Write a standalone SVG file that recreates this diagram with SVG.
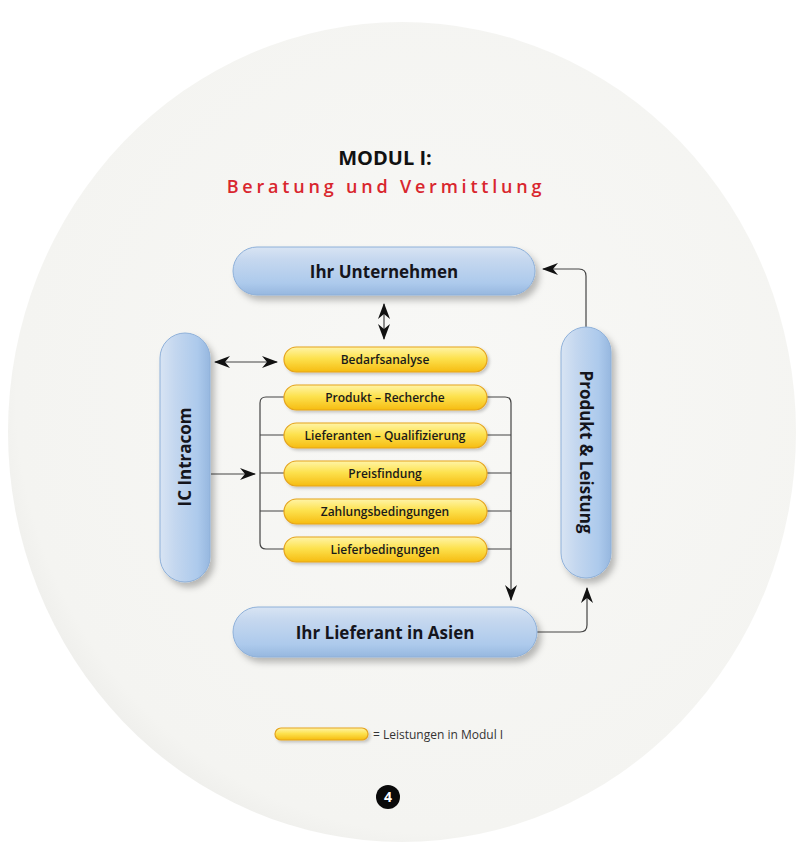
<svg xmlns="http://www.w3.org/2000/svg" width="800" height="868" viewBox="0 0 800 868">
<defs>
<linearGradient id="blueH" x1="0" y1="0" x2="0" y2="1">
<stop offset="0" stop-color="#d8e4f3"/>
<stop offset="0.25" stop-color="#c6d8ef"/>
<stop offset="0.75" stop-color="#adcaec"/>
<stop offset="1" stop-color="#96b7df"/>
</linearGradient>
<linearGradient id="blueV" x1="0" y1="0" x2="1" y2="0">
<stop offset="0" stop-color="#d8e4f3"/>
<stop offset="0.3" stop-color="#c4d7ef"/>
<stop offset="0.75" stop-color="#adcaec"/>
<stop offset="1" stop-color="#96b7df"/>
</linearGradient>
<linearGradient id="yel" x1="0" y1="0" x2="0" y2="1">
<stop offset="0" stop-color="#fff4a8"/>
<stop offset="0.45" stop-color="#fde24f"/>
<stop offset="1" stop-color="#f6bc10"/>
</linearGradient>
<radialGradient id="disc" cx="0.55" cy="0.45" r="0.6">
<stop offset="0" stop-color="#f8f8f6"/>
<stop offset="0.9" stop-color="#f4f4f1"/>
<stop offset="1" stop-color="#ebebe8"/>
</radialGradient>
<filter id="sh" x="-20%" y="-30%" width="150%" height="180%">
<feDropShadow dx="4" dy="5" stdDeviation="3" flood-color="#000" flood-opacity="0.25"/>
</filter>
<filter id="shy" x="-10%" y="-30%" width="130%" height="180%">
<feDropShadow dx="2" dy="2" stdDeviation="1.5" flood-color="#000" flood-opacity="0.2"/>
</filter>
<marker id="ah" viewBox="0 0 16 12" refX="15" refY="6" markerWidth="16" markerHeight="12" markerUnits="userSpaceOnUse" orient="auto-start-reverse">
<path d="M0,0 L16,6 L0,12 L5,6 Z" fill="#111"/>
</marker>
</defs>
<style>
.blue{fill:url(#blueH);stroke:#8eb0d9;stroke-width:1;filter:url(#sh)}
.blueV{fill:url(#blueV);stroke:#8eb0d9;stroke-width:1;filter:url(#sh)}
.yel{fill:url(#yel);stroke:#e5a31c;stroke-width:1.2;filter:url(#shy)}
.big{font-family:"Open Sans","Liberation Sans",sans-serif;font-weight:700;font-size:17px;fill:#15151c;text-anchor:middle}
.sm{font-family:"Open Sans","Liberation Sans",sans-serif;font-weight:600;font-size:12px;fill:#1a1a1a;text-anchor:middle}
.ln{fill:none;stroke:#444;stroke-width:1.2}
</style>
<rect width="800" height="868" fill="#ffffff"/>
<ellipse cx="402" cy="432" rx="394" ry="410" fill="url(#disc)"/>
<g id="title">
<text x="385" y="165" font-family="Open Sans,Liberation Sans,sans-serif" font-weight="700" font-size="20" fill="#111" text-anchor="middle">MODUL I:</text>
<text x="386" y="193" font-family="Open Sans,Liberation Sans,sans-serif" font-weight="600" font-size="18" fill="#d9262e" text-anchor="middle" letter-spacing="3.8">Beratung und Vermittlung</text>
</g>
<g id="connectors">
<line class="ln" x1="384" y1="304" x2="384" y2="339" marker-start="url(#ah)" marker-end="url(#ah)"/>
<line class="ln" x1="215" y1="362" x2="277" y2="362" marker-start="url(#ah)" marker-end="url(#ah)"/>
<line class="ln" x1="211" y1="474" x2="255" y2="474" marker-end="url(#ah)"/>
<path class="ln" d="M284,397 H266 Q260,397 260,403 V543 Q260,549 266,549 H284"/>
<path class="ln" d="M260,435 H284 M260,473 H284 M260,511 H284"/>
<path class="ln" d="M487,397 H505 Q511,397 511,403 V600" marker-end="url(#ah)"/>
<path class="ln" d="M487,435 H511 M487,473 H511 M487,511 H511 M487,549 H511"/>
<path class="ln" d="M586,327 V276 Q586,269 579,269 H543" marker-end="url(#ah)"/>
<path class="ln" d="M537,632 H580 Q587,632 587,625 V588" marker-end="url(#ah)"/>
</g>
<g id="ihr-unternehmen">
<rect class="blue" x="233" y="247" width="302" height="48" rx="24"/>
<text class="big" x="384" y="278">Ihr Unternehmen</text>
</g>
<g id="ic-intracom">
<rect class="blueV" x="160" y="333" width="50" height="249" rx="25"/>
<text class="big" transform="translate(191,457) rotate(-90)">IC Intracom</text>
</g>
<g id="produkt-leistung">
<rect class="blueV" x="561" y="327" width="50" height="251" rx="25"/>
<text class="big" transform="translate(580,452) rotate(90)">Produkt &amp; Leistung</text>
</g>
<g id="ihr-lieferant">
<rect class="blue" x="233" y="607" width="304" height="50" rx="25"/>
<text class="big" x="385" y="639">Ihr Lieferant in Asien</text>
</g>
<g id="bedarfsanalyse">
<rect class="yel" x="284" y="347" width="203" height="25" rx="12.5"/>
<text class="sm" x="385" y="364">Bedarfsanalyse</text>
</g>
<g id="produkt-recherche">
<rect class="yel" x="284" y="385" width="203" height="25" rx="12.5"/>
<text class="sm" x="385" y="402">Produkt – Recherche</text>
</g>
<g id="lieferanten-qualifizierung">
<rect class="yel" x="284" y="423" width="203" height="25" rx="12.5"/>
<text class="sm" x="385" y="440">Lieferanten – Qualifizierung</text>
</g>
<g id="preisfindung">
<rect class="yel" x="284" y="461" width="203" height="25" rx="12.5"/>
<text class="sm" x="385" y="478">Preisfindung</text>
</g>
<g id="zahlungsbedingungen">
<rect class="yel" x="284" y="499" width="203" height="25" rx="12.5"/>
<text class="sm" x="385" y="516">Zahlungsbedingungen</text>
</g>
<g id="lieferbedingungen">
<rect class="yel" x="284" y="537" width="203" height="25" rx="12.5"/>
<text class="sm" x="385" y="554">Lieferbedingungen</text>
</g>
<g id="legend">
<rect class="yel" x="275" y="728" width="93" height="12" rx="6"/>
<text x="373" y="739" font-family="Open Sans,Liberation Sans,sans-serif" font-size="12" fill="#333">= Leistungen in Modul I</text>
</g>
<g id="page-number">
<circle cx="388" cy="797" r="12" fill="#0a0a0a"/>
<text x="388" y="802" font-family="Open Sans,Liberation Sans,sans-serif" font-weight="700" font-size="14" fill="#fff" text-anchor="middle">4</text>
</g>
</svg>
